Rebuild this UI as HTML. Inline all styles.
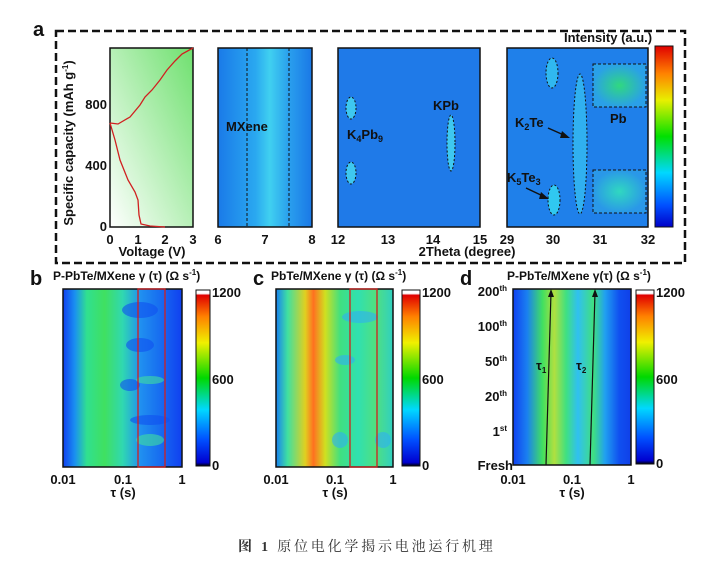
<!DOCTYPE html>
<html><head><meta charset="utf-8"><style>
body{margin:0;background:#fff}
svg text{font-family:"Liberation Sans",Arial,sans-serif;font-weight:bold;fill:#111}
</style></head><body>
<svg width="715" height="568" viewBox="0 0 715 568" xmlns="http://www.w3.org/2000/svg">
<defs>
<linearGradient id="gv" x1="0" y1="1" x2="1" y2="0"><stop offset="0" stop-color="#fff"/><stop offset="1" stop-color="#6fe06f"/></linearGradient>
<linearGradient id="cb" x1="0" y1="1" x2="0" y2="0">
<stop offset="0" stop-color="#0000c8"/><stop offset="0.12" stop-color="#0050ff"/><stop offset="0.3" stop-color="#00d8ff"/><stop offset="0.5" stop-color="#00e000"/><stop offset="0.7" stop-color="#e8f000"/><stop offset="0.85" stop-color="#ff8000"/><stop offset="1" stop-color="#e00000"/></linearGradient>
<linearGradient id="cb2" x1="0" y1="1" x2="0" y2="0">
<stop offset="0" stop-color="#000"/><stop offset="0.02" stop-color="#0000d0"/><stop offset="0.15" stop-color="#0050ff"/><stop offset="0.32" stop-color="#00d8ff"/><stop offset="0.5" stop-color="#00d800"/><stop offset="0.7" stop-color="#f0f000"/><stop offset="0.85" stop-color="#ff8000"/><stop offset="0.97" stop-color="#e00000"/><stop offset="0.98" stop-color="#fff"/><stop offset="1" stop-color="#fff"/></linearGradient>
<linearGradient id="ga2" x1="0" y1="0" x2="1" y2="0"><stop offset="0" stop-color="#1a7ae8"/><stop offset="0.4" stop-color="#2aa8f0"/><stop offset="0.55" stop-color="#40d0f0"/><stop offset="0.75" stop-color="#2aa0ee"/><stop offset="1" stop-color="#1a78e6"/></linearGradient>
<linearGradient id="gb" x1="0" y1="0" x2="1" y2="0"><stop offset="0" stop-color="#1040f0"/><stop offset="0.1" stop-color="#1a90f0"/><stop offset="0.2" stop-color="#30e090"/><stop offset="0.35" stop-color="#40e060"/><stop offset="0.5" stop-color="#30d8b0"/><stop offset="0.65" stop-color="#2090f0"/><stop offset="0.8" stop-color="#1870f0"/><stop offset="1" stop-color="#1040f0"/></linearGradient>
<linearGradient id="gc" x1="0" y1="0" x2="1" y2="0"><stop offset="0" stop-color="#1880f0"/><stop offset="0.1" stop-color="#40e0a0"/><stop offset="0.25" stop-color="#e0d020"/><stop offset="0.32" stop-color="#ff7020"/><stop offset="0.42" stop-color="#d0e020"/><stop offset="0.55" stop-color="#40e080"/><stop offset="0.7" stop-color="#30e0b0"/><stop offset="0.85" stop-color="#50e080"/><stop offset="1" stop-color="#30d0c0"/></linearGradient>
<linearGradient id="gd" x1="0" y1="0" x2="1" y2="0"><stop offset="0" stop-color="#1040f0"/><stop offset="0.12" stop-color="#1a80f0"/><stop offset="0.25" stop-color="#40e060"/><stop offset="0.35" stop-color="#b0e040"/><stop offset="0.45" stop-color="#40e080"/><stop offset="0.55" stop-color="#30c0f0"/><stop offset="0.68" stop-color="#40e080"/><stop offset="0.78" stop-color="#20a0f0"/><stop offset="0.9" stop-color="#1050f0"/><stop offset="1" stop-color="#1040e8"/></linearGradient>
<radialGradient id="pb1"><stop offset="0" stop-color="#30d880"/><stop offset="1" stop-color="#2aa0e8"/></radialGradient>
<radialGradient id="pb2"><stop offset="0" stop-color="#30d8c0"/><stop offset="1" stop-color="#2a98e8"/></radialGradient>
</defs>
<text x="33" y="36" font-size="20">a</text>
<rect x="56" y="31" width="629" height="232" fill="none" stroke="#111" stroke-width="2.5" stroke-dasharray="8,4"/>
<!-- a1 -->
<rect x="110" y="48" width="83" height="179" fill="url(#gv)" stroke="#111" stroke-width="1.5"/>
<path d="M110,123 L118,124 L130,117 L140,105 L145,97 L152,90 L160,80 L167,70 L175,61 L182,54 L193,48" fill="none" stroke="#d02020" stroke-width="1.3"/>
<path d="M110,123 L115,140 L120,160 L128,180 L135,192 L138,200 L139,215 L141,224 L150,226 L165,227" fill="none" stroke="#d02020" stroke-width="1.3"/>
<g font-size="13"><text x="107" y="109" text-anchor="end">800</text><text x="107" y="170" text-anchor="end">400</text><text x="107" y="231" text-anchor="end">0</text>
<text x="110" y="244" text-anchor="middle">0</text><text x="138" y="244" text-anchor="middle">1</text><text x="165" y="244" text-anchor="middle">2</text><text x="193" y="244" text-anchor="middle">3</text>
<text x="152" y="256" text-anchor="middle">Voltage (V)</text></g>
<text transform="translate(73,143) rotate(-90)" font-size="13" text-anchor="middle">Specific capacity (mAh g<tspan font-size="8" dy="-5">-1</tspan><tspan dy="5">)</tspan></text>
<!-- a2 -->
<rect x="218" y="48" width="94" height="179" fill="url(#ga2)" stroke="#111" stroke-width="1.5"/>
<line x1="247" y1="48" x2="247" y2="227" stroke="#111" stroke-dasharray="3,2"/><line x1="289" y1="48" x2="289" y2="227" stroke="#111" stroke-dasharray="3,2"/>
<text x="226" y="131" font-size="13">MXene</text>
<g font-size="13"><text x="218" y="244" text-anchor="middle">6</text><text x="265" y="244" text-anchor="middle">7</text><text x="312" y="244" text-anchor="middle">8</text></g>
<!-- a3 -->
<rect x="338" y="48" width="142" height="179" fill="#1f7ae8" stroke="#111" stroke-width="1.5"/>
<ellipse cx="351" cy="108" rx="5" ry="11" fill="#3ec8f0" stroke="#111" stroke-dasharray="2,2"/>
<ellipse cx="351" cy="173" rx="5" ry="11" fill="#3ec8f0" stroke="#111" stroke-dasharray="2,2"/>
<ellipse cx="451" cy="143" rx="4" ry="28" fill="#3ec8f0" stroke="#111" stroke-dasharray="2,2"/>
<text x="347" y="139" font-size="13">K<tspan font-size="9" dy="3">4</tspan><tspan dy="-3">Pb</tspan><tspan font-size="9" dy="3">9</tspan></text>
<text x="433" y="110" font-size="13">KPb</text>
<g font-size="13"><text x="338" y="244" text-anchor="middle">12</text><text x="388" y="244" text-anchor="middle">13</text><text x="433" y="244" text-anchor="middle">14</text><text x="480" y="244" text-anchor="middle">15</text>
<text x="467" y="256" text-anchor="middle">2Theta (degree)</text></g>
<!-- a4 -->
<rect x="507" y="48" width="141" height="179" fill="#1f80ea" stroke="#111" stroke-width="1.5"/>
<rect x="593" y="64" width="53" height="43" fill="url(#pb1)"/><rect x="593" y="170" width="53" height="43" fill="url(#pb2)"/>
<rect x="593" y="64" width="53" height="43" fill="none" stroke="#111" stroke-dasharray="3,2"/><rect x="593" y="170" width="53" height="43" fill="none" stroke="#111" stroke-dasharray="3,2"/>
<ellipse cx="552" cy="73" rx="6" ry="15" fill="#30b8f0" stroke="#111" stroke-dasharray="2,2"/>
<ellipse cx="554" cy="200" rx="6" ry="15" fill="#30c8f0" stroke="#111" stroke-dasharray="2,2"/>
<ellipse cx="580" cy="144" rx="7" ry="70" fill="#30b0f0" stroke="#111" stroke-dasharray="2,2"/>
<text x="515" y="127" font-size="13">K<tspan font-size="9" dy="3">2</tspan><tspan dy="-3">Te</tspan></text>
<text x="507" y="182" font-size="13">K<tspan font-size="9" dy="3">5</tspan><tspan dy="-3">Te</tspan><tspan font-size="9" dy="3">3</tspan></text>
<text x="610" y="123" font-size="13">Pb</text>
<path d="M548,128 L566,136" stroke="#111" stroke-width="1.5"/><path d="M570,138 L562,131 L560,138Z" fill="#111"/>
<path d="M526,188 L545,197" stroke="#111" stroke-width="1.5"/><path d="M549,199 L541,192 L539,199Z" fill="#111"/>
<g font-size="13"><text x="507" y="244" text-anchor="middle">29</text><text x="553" y="244" text-anchor="middle">30</text><text x="600" y="244" text-anchor="middle">31</text><text x="648" y="244" text-anchor="middle">32</text></g>
<rect x="655" y="46" width="18" height="181" fill="url(#cb)" stroke="#111"/>
<text x="564" y="42" font-size="13">Intensity (a.u.)</text>
<!-- b -->
<text x="30" y="285" font-size="20">b</text>
<text x="53" y="280" font-size="12">P-PbTe/MXene  γ (τ) (Ω s<tspan font-size="8" dy="-5">-1</tspan><tspan dy="5">)</tspan></text>
<rect x="63" y="289" width="119" height="178" fill="url(#gb)"/>
<g fill="#1050f0" opacity="0.6"><ellipse cx="140" cy="310" rx="18" ry="8"/><ellipse cx="140" cy="345" rx="14" ry="7"/><ellipse cx="150" cy="420" rx="20" ry="5"/><ellipse cx="130" cy="385" rx="10" ry="6"/></g>
<g fill="#40e0a0" opacity="0.6"><ellipse cx="150" cy="380" rx="14" ry="4"/><ellipse cx="150" cy="440" rx="14" ry="6"/></g>
<rect x="63" y="289" width="119" height="178" fill="none" stroke="#111" stroke-width="1.5"/>
<rect x="138" y="289" width="27" height="178" fill="none" stroke="#d02020" stroke-width="1.3"/>
<rect x="196" y="290" width="14" height="176" fill="url(#cb2)" stroke="#111"/>
<g font-size="13"><text x="212" y="297">1200</text><text x="212" y="384">600</text><text x="212" y="470">0</text>
<text x="63" y="484" text-anchor="middle">0.01</text><text x="123" y="484" text-anchor="middle">0.1</text><text x="182" y="484" text-anchor="middle">1</text><text x="123" y="497" text-anchor="middle">τ (s)</text></g>
<!-- c -->
<text x="253" y="285" font-size="20">c</text>
<text x="271" y="280" font-size="12">PbTe/MXene  γ (τ) (Ω s<tspan font-size="8" dy="-5">-1</tspan><tspan dy="5">)</tspan></text>
<rect x="276" y="289" width="117" height="178" fill="url(#gc)"/>
<g fill="#30b0f0" opacity="0.6"><ellipse cx="360" cy="317" rx="18" ry="6"/><ellipse cx="345" cy="360" rx="10" ry="5"/><ellipse cx="383" cy="440" rx="8" ry="8"/><ellipse cx="340" cy="440" rx="8" ry="8"/></g>
<rect x="276" y="289" width="117" height="178" fill="none" stroke="#111" stroke-width="1.5"/>
<rect x="350" y="289" width="27" height="178" fill="none" stroke="#d02020" stroke-width="1.3"/>
<rect x="402" y="290" width="18" height="176" fill="url(#cb2)" stroke="#111"/>
<g font-size="13"><text x="422" y="297">1200</text><text x="422" y="384">600</text><text x="422" y="470">0</text>
<text x="276" y="484" text-anchor="middle">0.01</text><text x="335" y="484" text-anchor="middle">0.1</text><text x="393" y="484" text-anchor="middle">1</text><text x="335" y="497" text-anchor="middle">τ (s)</text></g>
<!-- d -->
<text x="460" y="285" font-size="20">d</text>
<text x="507" y="280" font-size="12">P-PbTe/MXene γ(τ) (Ω s<tspan font-size="8" dy="-5">-1</tspan><tspan dy="5">)</tspan></text>
<rect x="513" y="289" width="118" height="176" fill="url(#gd)" stroke="#111" stroke-width="1.5"/>
<line x1="546" y1="465" x2="551" y2="292" stroke="#111" stroke-width="1.2"/><path d="M551,289 L548,297 L554,297Z" fill="#111"/>
<line x1="590" y1="465" x2="595" y2="292" stroke="#111" stroke-width="1.2"/><path d="M595,289 L592,297 L598,297Z" fill="#111"/>
<text x="536" y="370" font-size="13">τ<tspan font-size="8" dy="3">1</tspan></text>
<text x="576" y="370" font-size="13">τ<tspan font-size="8" dy="3">2</tspan></text>
<rect x="636" y="290" width="18" height="174" fill="url(#cb2)" stroke="#111"/>
<g font-size="13"><text x="656" y="297">1200</text><text x="656" y="384">600</text><text x="656" y="468">0</text>
<text x="513" y="470" text-anchor="end">Fresh</text>
<text x="507" y="436" text-anchor="end">1<tspan font-size="8" dy="-5">st</tspan></text>
<text x="507" y="401" text-anchor="end">20<tspan font-size="8" dy="-5">th</tspan></text>
<text x="507" y="366" text-anchor="end">50<tspan font-size="8" dy="-5">th</tspan></text>
<text x="507" y="331" text-anchor="end">100<tspan font-size="8" dy="-5">th</tspan></text>
<text x="507" y="296" text-anchor="end">200<tspan font-size="8" dy="-5">th</tspan></text>
<text x="513" y="484" text-anchor="middle">0.01</text><text x="572" y="484" text-anchor="middle">0.1</text><text x="631" y="484" text-anchor="middle">1</text><text x="572" y="497" text-anchor="middle">τ (s)</text></g>
<text x="238" y="551" font-size="14" letter-spacing="2.8" style="font-family:'Liberation Serif','Noto Serif CJK SC',serif;font-weight:normal;fill:#333"><tspan font-weight="bold">图 1</tspan>  原位电化学揭示电池运行机理</text>
</svg>
</body></html>
